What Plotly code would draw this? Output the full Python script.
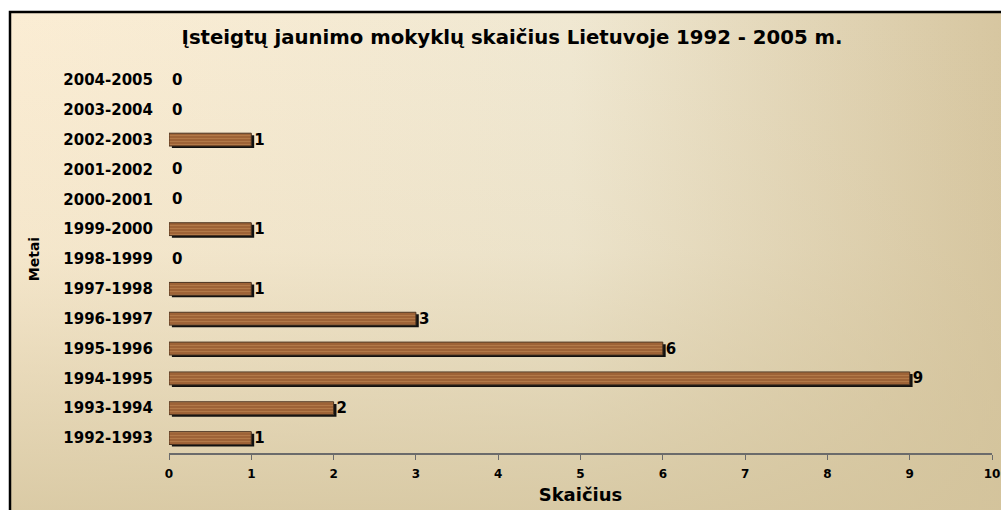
import base64
import plotly.graph_objects as go

# ---- data ----
years = ["1992-1993", "1993-1994", "1994-1995", "1995-1996", "1996-1997",
         "1997-1998", "1998-1999", "1999-2000", "2000-2001", "2001-2002",
         "2002-2003", "2003-2004", "2004-2005"]
counts = [1, 2, 9, 6, 3, 1, 0, 1, 0, 0, 1, 0, 0]
x_ticks = list(range(0, 11))

title_text = "Įsteigtų jaunimo mokyklų skaičius Lietuvoje 1992 - 2005 m."
x_title = "Skaičius"
y_title = "Metai"

# ---- geometry (pixels) ----
W, H = 1001, 510
L, R, T, B = 169, 9, 65, 57
PW, PH = W - L - R, H - T - B

FONT = "DejaVu Sans"
BAR_W = 0.43

svg = f'''<svg xmlns="http://www.w3.org/2000/svg" width="{W}" height="{H}" viewBox="0 0 {W} {H}" preserveAspectRatio="none">
<defs>
<linearGradient id="h" x1="0" y1="0" x2="1" y2="0">
<stop offset="0" stop-color="#FBEDD4"/>
<stop offset="0.55" stop-color="#F0E8D2"/>
<stop offset="1" stop-color="#D5C49D"/>
</linearGradient>
<linearGradient id="v" x1="0" y1="0" x2="0" y2="1">
<stop offset="0" stop-color="#D3C39B" stop-opacity="0"/>
<stop offset="0.45" stop-color="#D3C39B" stop-opacity="0.15"/>
<stop offset="1" stop-color="#D3C39B" stop-opacity="0.9"/>
</linearGradient>
</defs>
<rect x="0" y="0" width="{W}" height="{H}" fill="#ffffff"/>
<rect x="10" y="12" width="{W+20}" height="{H+20}" fill="url(#h)"/>
<rect x="10" y="12" width="{W+20}" height="{H+20}" fill="url(#v)"/>
<rect x="10" y="12" width="{W+20}" height="{H+20}" fill="none" stroke="#000" stroke-width="2.5"/>
</svg>'''
bg_src = "data:image/svg+xml;base64," + base64.b64encode(svg.encode("utf-8")).decode()

fig = go.Figure()

# shadow
fig.add_trace(go.Bar(
    y=years, x=counts, orientation="h", base=0.035,
    width=BAR_W, offset=-BAR_W / 2 - 0.07,
    marker=dict(color="#111111", line=dict(width=0)),
    hoverinfo="skip", showlegend=False,
))
# main bars
fig.add_trace(go.Bar(
    y=years, x=counts, orientation="h",
    width=BAR_W, offset=-BAR_W / 2,
    marker=dict(
        color="#9E6337",
        line=dict(color="#4B3320", width=[1 if v > 0 else 0 for v in counts]),
        pattern=dict(shape="-", fgcolor="#B47C4A", bgcolor="#9E6337",
                     size=3, solidity=0.3, fillmode="replace"),
    ),
    text=[str(v) for v in counts], textposition="outside",
    constraintext="none",
    textfont=dict(family=FONT, size=15, color="#000000", weight="bold"),
    cliponaxis=False, showlegend=False,
))

fig.update_layout(
    width=W, height=H,
    margin=dict(l=L, r=R, t=T, b=B, autoexpand=False),
    barmode="overlay",
    paper_bgcolor="#F3E8CF",
    plot_bgcolor="rgba(0,0,0,0)",
    title=dict(text=f"<b>{title_text}</b>", x=512 / W, xanchor="center",
               y=1 - 37 / H, yanchor="middle",
               font=dict(family=FONT, size=19.7, color="#000000")),
    images=[dict(source=bg_src, xref="paper", yref="paper",
                 x=-L / PW, y=(PH + T) / PH, sizex=W / PW, sizey=H / PH,
                 xanchor="left", yanchor="top", sizing="stretch",
                 layer="below")],
    xaxis=dict(range=[0, 10], tickvals=x_ticks, showgrid=False, zeroline=False,
               showline=True, linecolor="#6B6B6B", linewidth=2,
               ticks="outside", ticklen=5, tickcolor="#6B6B6B", tickwidth=1,
               ticklabelstandoff=4,
               tickfont=dict(family=FONT, size=12, color="#000", weight="bold"),
               title=dict(text=f"<b>{x_title}</b>", standoff=8,
                          font=dict(family=FONT, size=18, color="#000"))),
    yaxis=dict(type="category", categoryorder="array", categoryarray=years,
               range=[-0.5, len(years) - 0.5],
               showgrid=False, zeroline=False, showline=False, ticks="",
               ticklabelstandoff=15,
               tickfont=dict(family=FONT, size=15, color="#000", weight="bold"),
               title=dict(text=f"<b>{y_title}</b>", standoff=20,
                          font=dict(family=FONT, size=14, color="#000"))),
)

fig.write_html(
    "out.html",
    config={"displayModeBar": False},
    post_script="document.body.style.margin='0';document.body.style.overflow='hidden';",
)
